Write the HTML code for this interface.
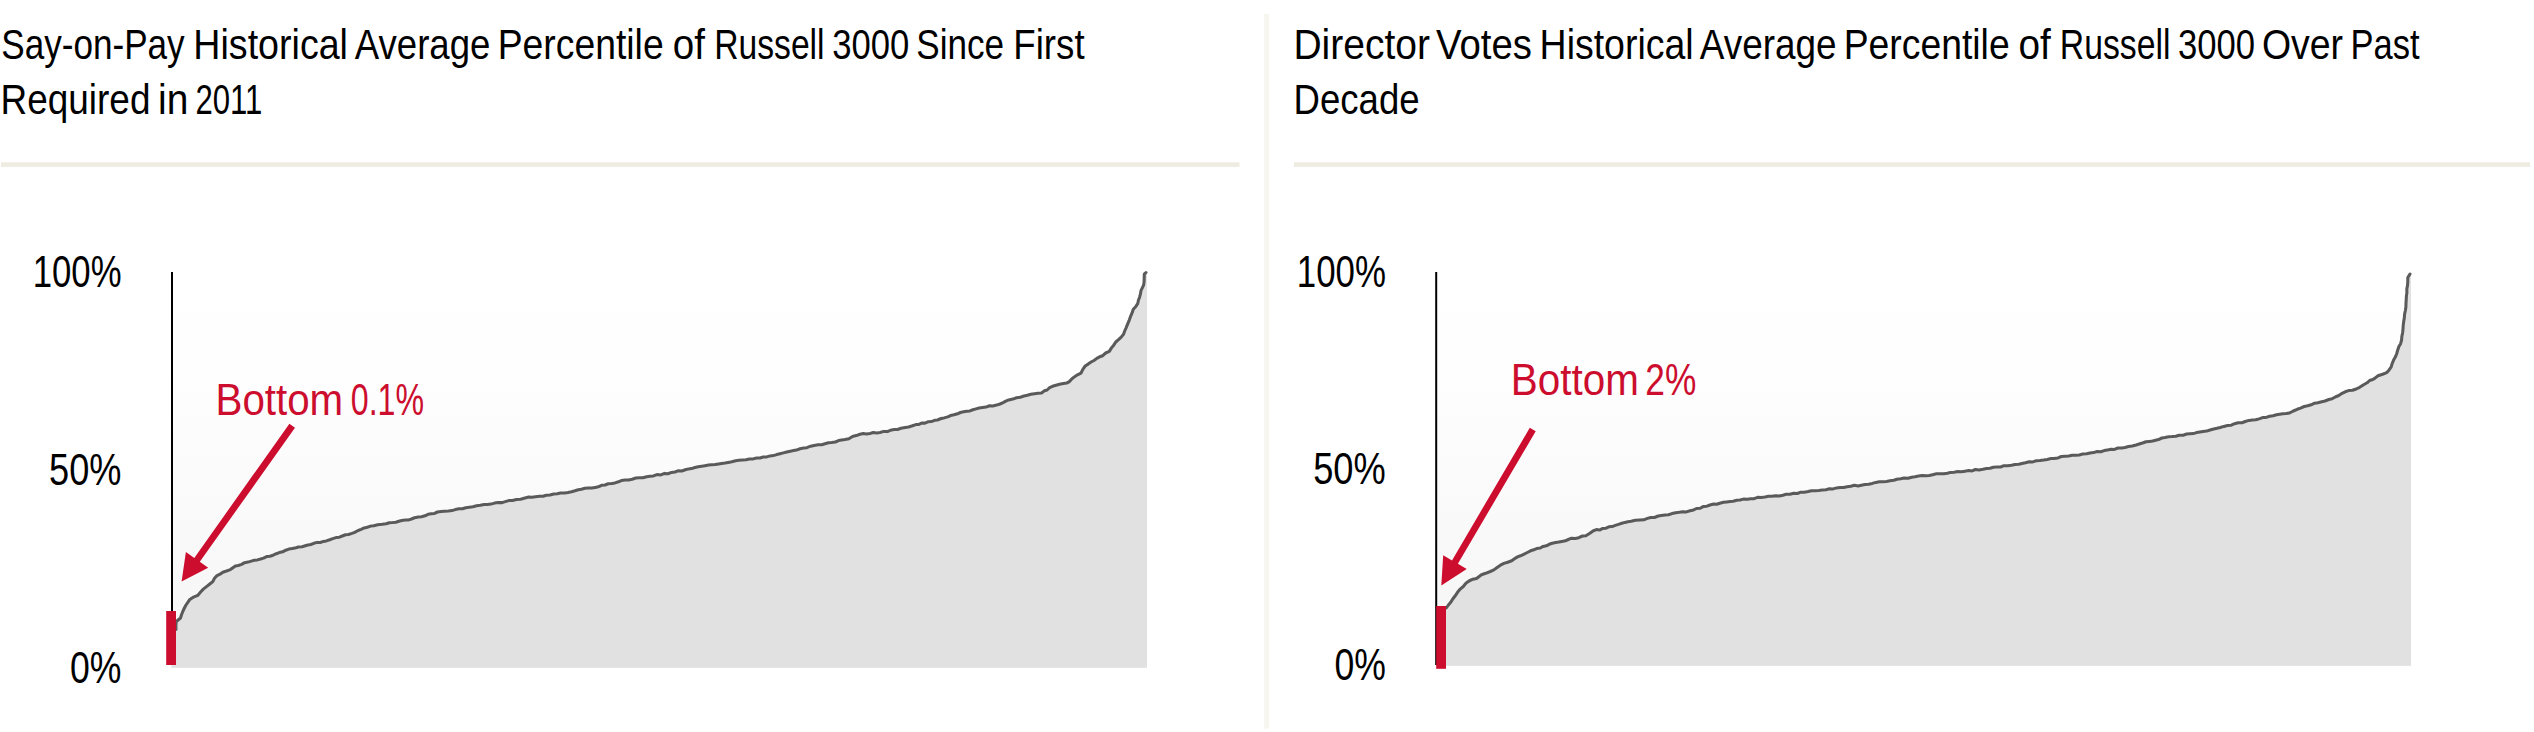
<!DOCTYPE html>
<html lang="en">
<head>
<meta charset="utf-8">
<title>Say-on-Pay and Director Votes Historical Average Percentile</title>
<style>
html,body{margin:0;padding:0;background:#fff;}
body{width:2534px;height:732px;overflow:hidden;font-family:"Liberation Sans",Arial,Helvetica,sans-serif;}
svg{display:block;}
text{font-family:"Liberation Sans",Arial,Helvetica,sans-serif;}
.t{font-size:42.6px;fill:#000;word-spacing:-4px;}
.a{font-size:44.5px;fill:#000;}
.r{font-size:44px;fill:#cc0d2e;word-spacing:-4px;}
</style>
</head>
<body>
<svg width="2534" height="732" viewBox="0 0 2534 732">
<defs>
<linearGradient id="bg" x1="0" y1="0" x2="0" y2="1">
<stop offset="0" stop-color="#ffffff"/>
<stop offset="0.25" stop-color="#fefefe"/>
<stop offset="1" stop-color="#f5f5f5"/>
</linearGradient>
</defs>
<rect x="0" y="0" width="2534" height="732" fill="#ffffff"/>
<!-- divider -->
<rect x="1264.3" y="13.9" width="4.7" height="714.7" fill="#f6f5ee"/>
<!-- rules -->
<rect x="1" y="162.3" width="1238.5" height="4.6" fill="#eeece1"/>
<rect x="1294" y="162.3" width="1236.2" height="4.6" fill="#eeece1"/>
<!-- titles -->
<text class="t" y="58.6"><tspan x="1.24" textLength="183.43" lengthAdjust="spacingAndGlyphs">Say-on-Pay</tspan> <tspan x="193.35" textLength="154.62" lengthAdjust="spacingAndGlyphs">Historical</tspan> <tspan x="354.78" textLength="135.61" lengthAdjust="spacingAndGlyphs">Average</tspan> <tspan x="497.73" textLength="165.92" lengthAdjust="spacingAndGlyphs">Percentile</tspan> <tspan x="672.81" textLength="32.13" lengthAdjust="spacingAndGlyphs">of</tspan> <tspan x="714.26" textLength="110.33" lengthAdjust="spacingAndGlyphs">Russell</tspan> <tspan x="832.29" textLength="77.07" lengthAdjust="spacingAndGlyphs">3000</tspan> <tspan x="916.24" textLength="87.77" lengthAdjust="spacingAndGlyphs">Since</tspan> <tspan x="1013.35" textLength="71.24" lengthAdjust="spacingAndGlyphs">First</tspan></text>
<text class="t" y="113.5"><tspan x="0.56" textLength="149.90" lengthAdjust="spacingAndGlyphs">Required</tspan> <tspan x="158.01" textLength="30.31" lengthAdjust="spacingAndGlyphs">in</tspan> <tspan x="195.39" textLength="66.90" lengthAdjust="spacingAndGlyphs">2011</tspan></text>
<text class="t" y="58.6"><tspan x="1293.38" textLength="136.52" lengthAdjust="spacingAndGlyphs">Director</tspan> <tspan x="1436.05" textLength="95.88" lengthAdjust="spacingAndGlyphs">Votes</tspan> <tspan x="1539.59" textLength="154.09" lengthAdjust="spacingAndGlyphs">Historical</tspan> <tspan x="1699.79" textLength="136.78" lengthAdjust="spacingAndGlyphs">Average</tspan> <tspan x="1843.73" textLength="165.92" lengthAdjust="spacingAndGlyphs">Percentile</tspan> <tspan x="2018.44" textLength="32.29" lengthAdjust="spacingAndGlyphs">of</tspan> <tspan x="2059.86" textLength="110.64" lengthAdjust="spacingAndGlyphs">Russell</tspan> <tspan x="2178.01" textLength="77.13" lengthAdjust="spacingAndGlyphs">3000</tspan> <tspan x="2261.89" textLength="81.16" lengthAdjust="spacingAndGlyphs">Over</tspan> <tspan x="2350.57" textLength="69.06" lengthAdjust="spacingAndGlyphs">Past</tspan></text>
<text class="t" y="113.5"><tspan x="1293.52" textLength="126.04" lengthAdjust="spacingAndGlyphs">Decade</tspan></text>

<!-- chart 1 -->
<rect x="172" y="272" width="975" height="395.8" fill="url(#bg)"/>
<polygon fill="#e1e1e1" points="171.2,667.8 171.2,629.5 176.0,629.5 175.9,625.3 176.3,621.5 180.5,618.0 181.5,614.7 183.0,611.0 184.4,608.0 186.0,605.0 189.5,599.8 193.6,597.1 197.7,595.4 200.6,592.0 203.3,589.1 206.5,586.6 209.8,584.0 212.8,581.6 214.5,578.3 216.6,575.9 220.0,574.2 222.8,572.2 226.5,571.0 230.4,569.6 235.4,565.9 238.3,565.5 241.6,564.4 244.6,562.7 248.0,562.1 251.3,561.1 254.3,560.2 257.4,559.9 260.6,559.0 263.5,558.1 266.7,556.6 269.9,556.3 273.1,555.2 276.3,553.7 279.3,552.6 282.7,551.8 285.7,550.2 288.9,549.1 292.2,548.6 295.0,548.1 298.3,547.0 302.2,546.7 306.8,545.2 310.8,544.5 313.9,543.3 317.2,542.4 320.3,542.5 323.4,541.4 326.4,540.9 329.8,539.7 332.8,538.6 336.0,537.6 339.4,537.2 342.3,536.0 345.5,534.8 348.5,534.5 351.9,533.4 354.7,532.3 358.1,530.5 361.1,529.4 364.2,527.9 367.2,527.2 370.7,526.1 373.7,525.7 377.7,524.7 382.3,524.3 386.2,523.8 389.3,522.7 392.7,522.6 395.9,522.3 398.8,521.3 401.9,520.5 405.3,520.0 408.0,520.1 411.4,519.0 414.6,517.8 418.2,517.1 421.5,516.7 425.0,515.8 428.1,514.3 431.3,513.7 434.5,513.4 437.5,512.0 441.1,511.6 444.4,511.3 448.4,511.0 452.0,510.6 455.3,509.6 459.0,508.8 462.5,508.8 465.8,507.7 469.4,507.2 472.9,506.8 476.6,505.8 480.3,505.3 484.2,504.6 487.5,504.5 490.9,504.1 494.6,503.1 498.0,502.6 502.1,502.6 505.3,501.6 508.7,500.6 512.5,500.5 516.5,499.5 520.6,499.2 525.0,498.0 528.8,497.0 531.9,497.2 535.4,496.8 539.6,496.3 543.0,496.3 546.3,495.2 550.0,495.0 553.7,494.0 557.3,493.8 560.5,493.0 564.6,492.9 568.0,492.4 571.6,491.7 575.0,490.8 578.3,489.8 581.4,489.3 584.9,488.3 588.4,487.9 591.6,488.1 595.3,487.4 598.3,486.8 601.5,485.3 605.0,485.0 608.2,483.8 611.9,483.5 615.0,482.9 618.5,481.8 621.8,480.4 625.0,480.0 628.7,479.9 632.1,479.2 635.9,478.0 639.5,477.7 642.8,477.8 646.7,476.7 650.0,476.2 653.4,475.9 656.9,474.6 660.9,474.9 664.5,473.4 668.0,473.7 671.5,472.4 675.0,472.0 678.0,470.8 681.8,471.0 685.3,469.8 688.6,468.9 691.5,468.6 695.0,467.5 698.2,466.7 701.7,466.2 705.0,465.7 708.6,465.1 711.6,464.8 715.2,464.6 718.6,463.9 721.7,463.5 725.0,463.0 728.2,462.4 731.8,461.7 735.7,460.7 739.0,460.2 742.5,460.0 746.0,459.8 749.5,459.0 753.2,458.9 756.5,458.0 760.0,458.0 763.2,457.0 766.7,456.9 770.2,455.9 773.3,455.6 776.7,454.6 780.0,453.8 783.4,452.9 786.7,452.0 790.3,451.2 793.6,450.6 796.5,450.1 800.0,448.8 803.8,448.1 806.9,447.7 810.7,446.2 814.1,445.4 818.0,444.7 821.7,444.8 825.0,443.8 828.5,442.7 831.5,442.5 835.3,442.0 838.6,440.6 841.7,440.1 845.0,439.5 848.9,438.7 852.5,436.5 856.2,435.6 860.0,434.2 863.2,433.6 866.4,433.9 870.0,433.4 873.2,432.6 876.7,432.9 880.0,432.5 883.8,431.4 887.3,431.6 890.4,430.3 894.2,429.6 897.5,429.5 901.0,428.3 905.2,427.5 908.6,427.0 912.5,425.8 915.9,424.6 918.9,424.4 921.6,423.1 925.0,423.1 928.4,421.7 931.4,421.6 934.6,420.3 937.5,420.0 941.1,418.5 944.1,417.9 947.8,416.9 950.6,415.6 954.0,414.8 957.5,413.8 960.4,412.5 963.6,411.7 966.8,411.2 969.9,410.9 972.9,409.8 976.0,408.9 979.1,408.0 982.5,407.5 986.0,407.1 989.5,405.8 992.8,405.9 996.5,405.1 1000.0,404.0 1003.1,402.6 1005.8,401.1 1008.7,399.9 1012.8,399.1 1016.5,397.8 1020.3,397.2 1024.0,396.0 1027.4,395.3 1030.8,394.3 1034.6,393.7 1037.8,393.3 1041.5,392.9 1044.5,390.8 1047.1,390.0 1049.6,387.7 1052.5,386.3 1056.0,385.3 1059.6,384.3 1063.4,383.6 1066.7,383.1 1069.3,381.6 1072.0,378.7 1074.3,376.9 1077.5,374.8 1080.9,373.2 1083.0,369.1 1085.2,366.0 1088.1,364.1 1091.1,362.0 1094.0,360.5 1096.8,358.4 1099.7,356.8 1102.7,355.7 1105.7,353.0 1109.3,351.4 1111.3,348.1 1113.7,345.2 1115.8,342.0 1118.5,339.7 1121.2,337.1 1123.5,334.3 1124.9,330.5 1126.2,327.6 1127.9,323.4 1129.3,320.1 1130.8,315.8 1132.0,313.2 1133.3,309.2 1135.7,306.7 1137.7,303.7 1138.5,300.0 1139.6,297.2 1140.4,294.2 1141.0,290.6 1143.6,285.1 1144.1,281.6 1144.2,278.0 1144.3,274.2 1146.0,272.5 1147,272.5 1147,667.8"/>
<polyline fill="none" stroke="#5a5a5a" stroke-width="3.05" stroke-linejoin="round" stroke-linecap="round" points="176.0,629.5 175.9,625.3 176.3,621.5 180.5,618.0 181.5,614.7 183.0,611.0 184.4,608.0 186.0,605.0 189.5,599.8 193.6,597.1 197.7,595.4 200.6,592.0 203.3,589.1 206.5,586.6 209.8,584.0 212.8,581.6 214.5,578.3 216.6,575.9 220.0,574.2 222.8,572.2 226.5,571.0 230.4,569.6 235.4,565.9 238.3,565.5 241.6,564.4 244.6,562.7 248.0,562.1 251.3,561.1 254.3,560.2 257.4,559.9 260.6,559.0 263.5,558.1 266.7,556.6 269.9,556.3 273.1,555.2 276.3,553.7 279.3,552.6 282.7,551.8 285.7,550.2 288.9,549.1 292.2,548.6 295.0,548.1 298.3,547.0 302.2,546.7 306.8,545.2 310.8,544.5 313.9,543.3 317.2,542.4 320.3,542.5 323.4,541.4 326.4,540.9 329.8,539.7 332.8,538.6 336.0,537.6 339.4,537.2 342.3,536.0 345.5,534.8 348.5,534.5 351.9,533.4 354.7,532.3 358.1,530.5 361.1,529.4 364.2,527.9 367.2,527.2 370.7,526.1 373.7,525.7 377.7,524.7 382.3,524.3 386.2,523.8 389.3,522.7 392.7,522.6 395.9,522.3 398.8,521.3 401.9,520.5 405.3,520.0 408.0,520.1 411.4,519.0 414.6,517.8 418.2,517.1 421.5,516.7 425.0,515.8 428.1,514.3 431.3,513.7 434.5,513.4 437.5,512.0 441.1,511.6 444.4,511.3 448.4,511.0 452.0,510.6 455.3,509.6 459.0,508.8 462.5,508.8 465.8,507.7 469.4,507.2 472.9,506.8 476.6,505.8 480.3,505.3 484.2,504.6 487.5,504.5 490.9,504.1 494.6,503.1 498.0,502.6 502.1,502.6 505.3,501.6 508.7,500.6 512.5,500.5 516.5,499.5 520.6,499.2 525.0,498.0 528.8,497.0 531.9,497.2 535.4,496.8 539.6,496.3 543.0,496.3 546.3,495.2 550.0,495.0 553.7,494.0 557.3,493.8 560.5,493.0 564.6,492.9 568.0,492.4 571.6,491.7 575.0,490.8 578.3,489.8 581.4,489.3 584.9,488.3 588.4,487.9 591.6,488.1 595.3,487.4 598.3,486.8 601.5,485.3 605.0,485.0 608.2,483.8 611.9,483.5 615.0,482.9 618.5,481.8 621.8,480.4 625.0,480.0 628.7,479.9 632.1,479.2 635.9,478.0 639.5,477.7 642.8,477.8 646.7,476.7 650.0,476.2 653.4,475.9 656.9,474.6 660.9,474.9 664.5,473.4 668.0,473.7 671.5,472.4 675.0,472.0 678.0,470.8 681.8,471.0 685.3,469.8 688.6,468.9 691.5,468.6 695.0,467.5 698.2,466.7 701.7,466.2 705.0,465.7 708.6,465.1 711.6,464.8 715.2,464.6 718.6,463.9 721.7,463.5 725.0,463.0 728.2,462.4 731.8,461.7 735.7,460.7 739.0,460.2 742.5,460.0 746.0,459.8 749.5,459.0 753.2,458.9 756.5,458.0 760.0,458.0 763.2,457.0 766.7,456.9 770.2,455.9 773.3,455.6 776.7,454.6 780.0,453.8 783.4,452.9 786.7,452.0 790.3,451.2 793.6,450.6 796.5,450.1 800.0,448.8 803.8,448.1 806.9,447.7 810.7,446.2 814.1,445.4 818.0,444.7 821.7,444.8 825.0,443.8 828.5,442.7 831.5,442.5 835.3,442.0 838.6,440.6 841.7,440.1 845.0,439.5 848.9,438.7 852.5,436.5 856.2,435.6 860.0,434.2 863.2,433.6 866.4,433.9 870.0,433.4 873.2,432.6 876.7,432.9 880.0,432.5 883.8,431.4 887.3,431.6 890.4,430.3 894.2,429.6 897.5,429.5 901.0,428.3 905.2,427.5 908.6,427.0 912.5,425.8 915.9,424.6 918.9,424.4 921.6,423.1 925.0,423.1 928.4,421.7 931.4,421.6 934.6,420.3 937.5,420.0 941.1,418.5 944.1,417.9 947.8,416.9 950.6,415.6 954.0,414.8 957.5,413.8 960.4,412.5 963.6,411.7 966.8,411.2 969.9,410.9 972.9,409.8 976.0,408.9 979.1,408.0 982.5,407.5 986.0,407.1 989.5,405.8 992.8,405.9 996.5,405.1 1000.0,404.0 1003.1,402.6 1005.8,401.1 1008.7,399.9 1012.8,399.1 1016.5,397.8 1020.3,397.2 1024.0,396.0 1027.4,395.3 1030.8,394.3 1034.6,393.7 1037.8,393.3 1041.5,392.9 1044.5,390.8 1047.1,390.0 1049.6,387.7 1052.5,386.3 1056.0,385.3 1059.6,384.3 1063.4,383.6 1066.7,383.1 1069.3,381.6 1072.0,378.7 1074.3,376.9 1077.5,374.8 1080.9,373.2 1083.0,369.1 1085.2,366.0 1088.1,364.1 1091.1,362.0 1094.0,360.5 1096.8,358.4 1099.7,356.8 1102.7,355.7 1105.7,353.0 1109.3,351.4 1111.3,348.1 1113.7,345.2 1115.8,342.0 1118.5,339.7 1121.2,337.1 1123.5,334.3 1124.9,330.5 1126.2,327.6 1127.9,323.4 1129.3,320.1 1130.8,315.8 1132.0,313.2 1133.3,309.2 1135.7,306.7 1137.7,303.7 1138.5,300.0 1139.6,297.2 1140.4,294.2 1141.0,290.6 1143.6,285.1 1144.1,281.6 1144.2,278.0 1144.3,274.2 1146.0,272.5"/>
<rect x="171" y="272" width="2" height="340" fill="#000"/>
<rect x="166.2" y="611" width="9.8" height="54" fill="#cc0d2e"/>
<polygon fill="#cc0d2e" points="289.4,423.7 194.3,557.9 185.9,551.9 181.6,581.6 208.2,567.7 199.8,561.8 295.0,427.7"/>

<text class="r" y="414.5"><tspan x="215.56" textLength="127.62" lengthAdjust="spacingAndGlyphs">Bottom</tspan> <tspan x="350.79" textLength="73.26" lengthAdjust="spacingAndGlyphs">0.1%</tspan></text>
<text class="a" y="287"><tspan x="32.68" textLength="88.87" lengthAdjust="spacingAndGlyphs">100%</tspan></text>
<text class="a" y="485.4"><tspan x="49.11" textLength="72.40" lengthAdjust="spacingAndGlyphs">50%</tspan></text>
<text class="a" y="683.3"><tspan x="70.04" textLength="51.47" lengthAdjust="spacingAndGlyphs">0%</tspan></text>

<!-- chart 2 -->
<rect x="1436" y="272" width="975" height="393.8" fill="url(#bg)"/>
<polygon fill="#e1e1e1" points="1436,665.8 1436,608 1446.3,608.0 1448.4,605.0 1450.5,602.6 1452.6,599.2 1455.2,595.8 1457.7,592.1 1460.2,589.1 1463.3,586.5 1465.9,583.3 1469.0,581.0 1472.9,579.2 1476.5,578.4 1481.5,574.7 1485.6,573.3 1490.3,571.5 1493.9,569.9 1497.1,567.5 1500.4,565.2 1503.9,563.4 1507.7,562.3 1511.7,560.8 1514.5,558.8 1517.5,556.9 1520.5,555.8 1524.1,554.1 1527.3,552.5 1530.6,550.8 1533.8,549.7 1536.7,548.6 1540.3,548.0 1543.1,546.4 1546.4,545.8 1549.2,544.3 1552.3,543.3 1555.7,542.6 1558.8,542.1 1561.9,541.4 1565.4,540.8 1568.3,539.5 1571.6,538.2 1575.3,538.4 1578.8,537.7 1582.5,536.0 1585.9,535.7 1589.5,533.5 1593.4,530.7 1596.4,529.6 1599.9,530.0 1602.7,528.4 1606.0,528.2 1608.9,526.8 1612.1,526.6 1615.3,525.4 1618.5,524.4 1621.8,523.3 1624.9,522.4 1627.9,521.7 1631.1,521.3 1635.4,520.3 1640.0,520.0 1643.8,519.8 1647.4,518.4 1650.7,517.5 1654.4,517.5 1658.2,516.0 1661.3,515.4 1665.0,515.0 1668.5,514.7 1671.9,513.6 1675.8,512.7 1679.3,512.3 1682.8,511.8 1686.4,511.9 1690.0,510.8 1693.6,509.9 1696.5,508.5 1700.2,508.3 1703.1,506.6 1706.9,506.2 1710.0,505.0 1713.6,504.1 1716.7,504.3 1719.8,503.2 1723.6,502.3 1726.8,501.9 1730.2,501.4 1733.2,501.2 1736.8,500.2 1740.0,500.0 1743.4,499.1 1747.4,499.2 1750.6,498.8 1754.1,498.7 1757.7,497.3 1761.2,497.4 1765.0,497.0 1768.5,496.3 1771.9,496.3 1775.9,495.7 1779.4,496.0 1782.9,495.2 1786.1,494.2 1790.0,494.2 1793.8,493.2 1797.4,493.5 1800.8,492.2 1804.4,492.2 1808.2,491.6 1811.5,490.8 1815.0,490.8 1818.8,490.5 1822.3,490.1 1826.0,489.7 1829.4,488.7 1833.1,488.9 1836.6,487.9 1840.0,487.5 1843.6,487.5 1847.1,486.8 1850.8,486.3 1854.4,485.3 1858.1,485.9 1861.4,485.2 1865.0,484.5 1868.6,484.2 1872.3,483.4 1875.9,482.4 1879.3,481.8 1882.7,481.8 1886.4,481.5 1890.0,480.8 1893.8,480.3 1896.8,479.3 1900.8,478.8 1904.1,478.1 1908.0,478.3 1911.7,477.3 1915.0,476.8 1918.7,476.1 1922.1,475.6 1926.0,475.8 1929.2,475.5 1932.7,474.7 1936.4,473.8 1940.0,473.8 1943.8,473.8 1947.4,473.3 1950.5,472.4 1954.2,472.3 1957.8,471.6 1961.4,471.7 1965.0,471.2 1968.8,470.6 1972.1,470.9 1975.4,469.5 1979.0,469.9 1982.9,469.3 1986.6,468.5 1990.0,468.2 1993.4,467.2 1996.9,467.1 2000.6,467.0 2004.0,465.7 2007.8,465.7 2011.5,465.2 2015.0,464.5 2018.8,464.3 2022.0,463.6 2025.5,462.8 2029.3,461.7 2032.7,461.9 2036.3,460.8 2040.0,460.5 2043.6,460.1 2047.3,459.4 2050.9,458.6 2054.0,458.5 2058.0,457.9 2061.4,456.5 2065.0,456.2 2068.8,455.9 2072.2,455.2 2075.9,455.3 2079.3,454.9 2082.7,454.1 2086.6,453.7 2090.0,453.0 2093.6,452.6 2097.2,451.5 2100.8,451.7 2104.2,450.6 2107.5,450.0 2111.2,449.3 2114.4,449.4 2118.0,448.0 2121.7,448.1 2125.0,447.5 2128.5,446.5 2132.2,446.0 2136.1,445.0 2140.0,443.8 2143.3,442.8 2146.0,441.8 2149.5,441.4 2152.6,441.0 2155.6,440.3 2158.5,439.6 2161.9,438.0 2165.0,437.5 2168.7,436.7 2172.2,436.6 2175.8,436.3 2179.2,435.2 2183.1,435.2 2186.6,434.0 2190.0,433.8 2193.3,433.6 2196.5,432.6 2200.0,431.9 2203.0,431.4 2206.7,431.1 2210.0,430.0 2213.7,429.0 2217.0,428.3 2220.2,427.5 2223.9,426.4 2227.5,425.5 2231.3,425.2 2234.6,423.7 2238.2,422.7 2242.0,422.7 2245.2,421.5 2249.0,420.4 2252.5,420.0 2255.7,419.8 2259.1,418.9 2262.6,417.6 2266.1,417.4 2269.7,416.3 2273.1,415.8 2276.5,414.8 2279.7,414.3 2282.8,413.8 2286.2,413.6 2289.5,413.0 2293.3,411.0 2297.2,409.3 2300.5,408.1 2304.2,406.5 2307.7,405.8 2311.2,404.8 2314.6,403.2 2317.9,402.7 2321.8,401.7 2325.0,401.0 2328.9,399.5 2332.1,398.8 2335.7,396.7 2338.4,395.7 2342.1,393.3 2345.2,391.8 2348.6,390.6 2352.5,390.3 2356.2,389.0 2359.6,387.3 2363.6,384.8 2367.1,382.8 2369.6,380.5 2372.8,379.5 2375.0,378.1 2378.0,375.8 2382.6,374.2 2386.8,372.6 2389.1,369.9 2391.1,367.1 2392.2,363.5 2393.6,360.1 2395.2,357.3 2396.6,354.0 2397.6,350.5 2398.9,346.6 2400.6,343.7 2401.6,339.8 2401.8,336.7 2402.7,332.2 2403.0,329.1 2403.2,325.6 2403.7,321.6 2404.3,318.0 2404.6,314.2 2405.4,310.3 2405.9,307.0 2406.0,302.9 2406.2,300.1 2406.4,296.0 2406.9,292.8 2406.8,289.0 2407.5,285.6 2407.8,281.6 2407.8,277.5 2410.0,274.0 2411,274 2411,665.8"/>
<polyline fill="none" stroke="#5a5a5a" stroke-width="3.05" stroke-linejoin="round" stroke-linecap="round" points="1446.3,608.0 1448.4,605.0 1450.5,602.6 1452.6,599.2 1455.2,595.8 1457.7,592.1 1460.2,589.1 1463.3,586.5 1465.9,583.3 1469.0,581.0 1472.9,579.2 1476.5,578.4 1481.5,574.7 1485.6,573.3 1490.3,571.5 1493.9,569.9 1497.1,567.5 1500.4,565.2 1503.9,563.4 1507.7,562.3 1511.7,560.8 1514.5,558.8 1517.5,556.9 1520.5,555.8 1524.1,554.1 1527.3,552.5 1530.6,550.8 1533.8,549.7 1536.7,548.6 1540.3,548.0 1543.1,546.4 1546.4,545.8 1549.2,544.3 1552.3,543.3 1555.7,542.6 1558.8,542.1 1561.9,541.4 1565.4,540.8 1568.3,539.5 1571.6,538.2 1575.3,538.4 1578.8,537.7 1582.5,536.0 1585.9,535.7 1589.5,533.5 1593.4,530.7 1596.4,529.6 1599.9,530.0 1602.7,528.4 1606.0,528.2 1608.9,526.8 1612.1,526.6 1615.3,525.4 1618.5,524.4 1621.8,523.3 1624.9,522.4 1627.9,521.7 1631.1,521.3 1635.4,520.3 1640.0,520.0 1643.8,519.8 1647.4,518.4 1650.7,517.5 1654.4,517.5 1658.2,516.0 1661.3,515.4 1665.0,515.0 1668.5,514.7 1671.9,513.6 1675.8,512.7 1679.3,512.3 1682.8,511.8 1686.4,511.9 1690.0,510.8 1693.6,509.9 1696.5,508.5 1700.2,508.3 1703.1,506.6 1706.9,506.2 1710.0,505.0 1713.6,504.1 1716.7,504.3 1719.8,503.2 1723.6,502.3 1726.8,501.9 1730.2,501.4 1733.2,501.2 1736.8,500.2 1740.0,500.0 1743.4,499.1 1747.4,499.2 1750.6,498.8 1754.1,498.7 1757.7,497.3 1761.2,497.4 1765.0,497.0 1768.5,496.3 1771.9,496.3 1775.9,495.7 1779.4,496.0 1782.9,495.2 1786.1,494.2 1790.0,494.2 1793.8,493.2 1797.4,493.5 1800.8,492.2 1804.4,492.2 1808.2,491.6 1811.5,490.8 1815.0,490.8 1818.8,490.5 1822.3,490.1 1826.0,489.7 1829.4,488.7 1833.1,488.9 1836.6,487.9 1840.0,487.5 1843.6,487.5 1847.1,486.8 1850.8,486.3 1854.4,485.3 1858.1,485.9 1861.4,485.2 1865.0,484.5 1868.6,484.2 1872.3,483.4 1875.9,482.4 1879.3,481.8 1882.7,481.8 1886.4,481.5 1890.0,480.8 1893.8,480.3 1896.8,479.3 1900.8,478.8 1904.1,478.1 1908.0,478.3 1911.7,477.3 1915.0,476.8 1918.7,476.1 1922.1,475.6 1926.0,475.8 1929.2,475.5 1932.7,474.7 1936.4,473.8 1940.0,473.8 1943.8,473.8 1947.4,473.3 1950.5,472.4 1954.2,472.3 1957.8,471.6 1961.4,471.7 1965.0,471.2 1968.8,470.6 1972.1,470.9 1975.4,469.5 1979.0,469.9 1982.9,469.3 1986.6,468.5 1990.0,468.2 1993.4,467.2 1996.9,467.1 2000.6,467.0 2004.0,465.7 2007.8,465.7 2011.5,465.2 2015.0,464.5 2018.8,464.3 2022.0,463.6 2025.5,462.8 2029.3,461.7 2032.7,461.9 2036.3,460.8 2040.0,460.5 2043.6,460.1 2047.3,459.4 2050.9,458.6 2054.0,458.5 2058.0,457.9 2061.4,456.5 2065.0,456.2 2068.8,455.9 2072.2,455.2 2075.9,455.3 2079.3,454.9 2082.7,454.1 2086.6,453.7 2090.0,453.0 2093.6,452.6 2097.2,451.5 2100.8,451.7 2104.2,450.6 2107.5,450.0 2111.2,449.3 2114.4,449.4 2118.0,448.0 2121.7,448.1 2125.0,447.5 2128.5,446.5 2132.2,446.0 2136.1,445.0 2140.0,443.8 2143.3,442.8 2146.0,441.8 2149.5,441.4 2152.6,441.0 2155.6,440.3 2158.5,439.6 2161.9,438.0 2165.0,437.5 2168.7,436.7 2172.2,436.6 2175.8,436.3 2179.2,435.2 2183.1,435.2 2186.6,434.0 2190.0,433.8 2193.3,433.6 2196.5,432.6 2200.0,431.9 2203.0,431.4 2206.7,431.1 2210.0,430.0 2213.7,429.0 2217.0,428.3 2220.2,427.5 2223.9,426.4 2227.5,425.5 2231.3,425.2 2234.6,423.7 2238.2,422.7 2242.0,422.7 2245.2,421.5 2249.0,420.4 2252.5,420.0 2255.7,419.8 2259.1,418.9 2262.6,417.6 2266.1,417.4 2269.7,416.3 2273.1,415.8 2276.5,414.8 2279.7,414.3 2282.8,413.8 2286.2,413.6 2289.5,413.0 2293.3,411.0 2297.2,409.3 2300.5,408.1 2304.2,406.5 2307.7,405.8 2311.2,404.8 2314.6,403.2 2317.9,402.7 2321.8,401.7 2325.0,401.0 2328.9,399.5 2332.1,398.8 2335.7,396.7 2338.4,395.7 2342.1,393.3 2345.2,391.8 2348.6,390.6 2352.5,390.3 2356.2,389.0 2359.6,387.3 2363.6,384.8 2367.1,382.8 2369.6,380.5 2372.8,379.5 2375.0,378.1 2378.0,375.8 2382.6,374.2 2386.8,372.6 2389.1,369.9 2391.1,367.1 2392.2,363.5 2393.6,360.1 2395.2,357.3 2396.6,354.0 2397.6,350.5 2398.9,346.6 2400.6,343.7 2401.6,339.8 2401.8,336.7 2402.7,332.2 2403.0,329.1 2403.2,325.6 2403.7,321.6 2404.3,318.0 2404.6,314.2 2405.4,310.3 2405.9,307.0 2406.0,302.9 2406.2,300.1 2406.4,296.0 2406.9,292.8 2406.8,289.0 2407.5,285.6 2407.8,281.6 2407.8,277.5 2410.0,274.0"/>
<rect x="1435.2" y="272" width="2" height="393" fill="#000"/>
<rect x="1436.2" y="606" width="9.8" height="62.8" fill="#cc0d2e"/>
<polygon fill="#cc0d2e" points="1529.8,427.8 1452.0,560.4 1443.2,555.2 1441.3,585.4 1466.7,569.0 1457.9,563.8 1535.7,431.2"/>
<text class="r" y="395"><tspan x="1510.73" textLength="128.15" lengthAdjust="spacingAndGlyphs">Bottom</tspan> <tspan x="1645.27" textLength="50.98" lengthAdjust="spacingAndGlyphs">2%</tspan></text>
<text class="a" y="287"><tspan x="1296.81" textLength="89.12" lengthAdjust="spacingAndGlyphs">100%</tspan></text>
<text class="a" y="484.3"><tspan x="1313.20" textLength="72.56" lengthAdjust="spacingAndGlyphs">50%</tspan></text>
<text class="a" y="680.4"><tspan x="1334.51" textLength="51.48" lengthAdjust="spacingAndGlyphs">0%</tspan></text>
</svg>
</body>
</html>
